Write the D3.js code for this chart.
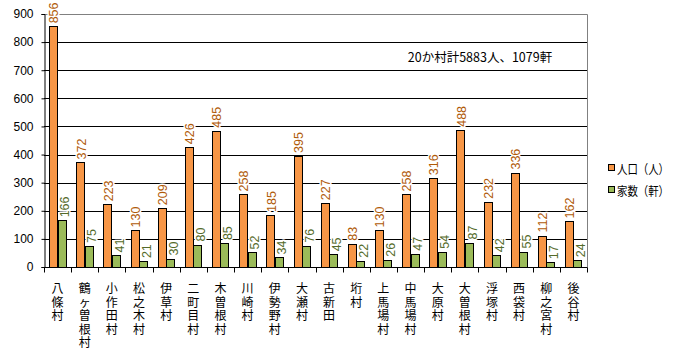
<!DOCTYPE html>
<html><head><meta charset="utf-8">
<script src="https://cdn.jsdelivr.net/npm/d3@7"></script>
<style>body{margin:0;background:#fff}svg{display:block}</style>
</head><body>
<script>
const villages = ["八條村","鶴ヶ曽根村","小作田村","松之木村","伊草村","二町目村","木曽根村","川崎村","伊勢野村","大瀬村","古新田","垳村","上馬場村","中馬場村","大原村","大曽根村","浮塚村","西袋村","柳之宮村","後谷村"];
const population = [856,372,223,130,209,426,485,258,185,395,227,83,130,258,316,488,232,336,112,162];
const households = [166,75,41,21,30,80,85,52,34,76,45,22,26,47,54,87,42,55,17,24];
const yTicks = [0,100,200,300,400,500,600,700,800,900];
const seriesNames = ["人口（人）","家数（軒）"];
const note = "20か村計5883人、1079軒";

const W = 682, H = 358;
const m = {left:44, right:587, top:14, bottom:267};
const numFont = "'Liberation Sans', Arial, sans-serif";
const jpFont = "'Noto Sans CJK JP', sans-serif";
const fills = ["#F79646","#9BBB59"];
const labCol = ["#B05A08","#556B2A"];
const labShift = [5, 7.5];

const svg = d3.select("body").append("svg").attr("width",W).attr("height",H);
const x = d3.scaleBand().domain(villages).range([m.left,m.right]).paddingInner(0).paddingOuter(0);
const xs = d3.scaleBand().domain([0,1]).range([0,x.bandwidth()]).paddingInner(0).paddingOuter(0.62);
const y = d3.scaleLinear().domain([0,900]).range([m.bottom,m.top]);

// gridlines
svg.append("g").selectAll("line").data(yTicks.filter(t=>t>0&&t<900)).join("line")
  .attr("x1",m.left).attr("x2",m.right).attr("y1",d=>Math.round(y(d))+0.5).attr("y2",d=>Math.round(y(d))+0.5)
  .attr("stroke","#000").attr("stroke-width",1);
// plot border top/right gray
svg.append("path").attr("d",`M${m.left},${Math.round(y(900))+0.5}H${m.right+0.5}V${m.bottom}`)
  .attr("fill","none").attr("stroke","#808080");

// y axis
const ya = svg.append("g").attr("transform",`translate(${m.left+0.5},0)`)
  .call(d3.axisLeft(y).tickValues(yTicks).tickSize(3).tickPadding(8));
ya.select(".domain").attr("stroke","#000");
ya.selectAll("text").attr("font-family",numFont).attr("font-size",12).attr("fill","#000");

// bars
const series = [population, households];
series.forEach((vals,si)=>{
  const g = svg.append("g");
  g.selectAll("rect").data(vals).join("rect")
    .attr("x",(d,i)=>Math.round(x(villages[i])+xs(si))+0.5)
    .attr("width",Math.round(xs.bandwidth()))
    .attr("y",d=>Math.round(y(d))+0.5)
    .attr("height",d=>Math.round(m.bottom-y(d)))
    .attr("fill",fills[si]).attr("stroke","#000").attr("stroke-width",1);
});
series.forEach((vals,si)=>{
  svg.append("g").selectAll("text").data(vals).join("text")
    .attr("transform",(d,i)=>`translate(${x(villages[i])+xs(si)+xs.bandwidth()/2+labShift[si]},${y(d)-3}) rotate(-90)`)
    .attr("font-family",numFont).attr("font-size",12.5).attr("fill",labCol[si])
    .attr("stroke","#fff").attr("stroke-width",3).attr("paint-order","stroke").attr("stroke-linejoin","round")
    .text(d=>d);
});

// x axis
const xa = svg.append("g").attr("transform",`translate(0,${m.bottom+0.5})`);
xa.append("line").attr("x1",m.left).attr("x2",m.right+0.5).attr("stroke","#000");
xa.selectAll("line.t").data(d3.range(villages.length+1)).join("line").attr("class","t")
  .attr("x1",i=>Math.round(m.left+i*x.step())+0.5).attr("x2",i=>Math.round(m.left+i*x.step())+0.5)
  .attr("y1",0).attr("y2",5).attr("stroke","#000");

// vertical category labels (one character per line)
const lab = svg.append("g");
villages.forEach(v=>{
  const t = lab.append("text").attr("font-family",jpFont).attr("font-size",12).attr("fill","#000").attr("text-anchor","middle");
  [...v].forEach((c,k)=>{
    t.append("tspan").attr("x",x(v)+x.bandwidth()/2).attr("y",293+k*13.5).text(c);
  });
});

// note
svg.append("text").attr("x",480).attr("y",61.5).attr("text-anchor","middle")
  .attr("font-family",jpFont).attr("font-size",12.5).attr("fill","#000").text(note);

// legend
const lg = svg.append("g");
seriesNames.forEach((n,i)=>{
  const yy = 169 + i*22;
  lg.append("rect").attr("x",608.5).attr("y",yy-4.5).attr("width",6).attr("height",6)
    .attr("fill",fills[i]).attr("stroke","#000");
  lg.append("text").attr("x",617).attr("y",yy+4.5).attr("font-family",jpFont).attr("font-size",12.5)
    .attr("textLength",52).attr("lengthAdjust","spacingAndGlyphs").attr("fill","#000").text(n);
});
</script>
</body></html>
